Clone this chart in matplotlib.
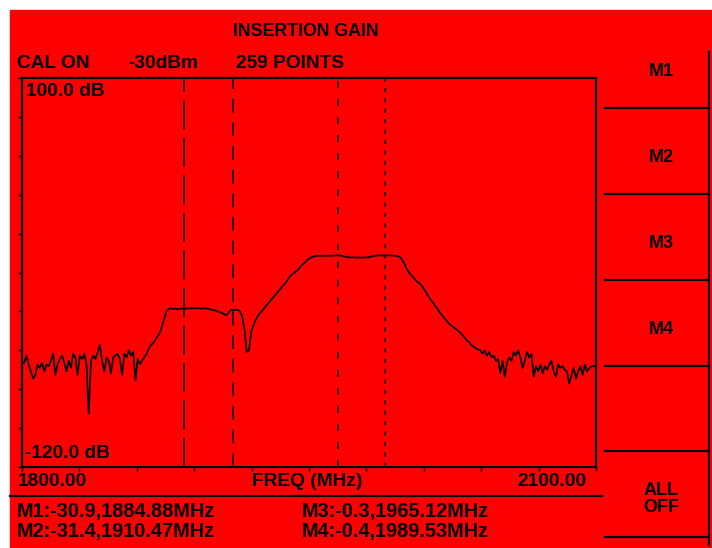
import numpy as np
import matplotlib.pyplot as plt
from matplotlib.patches import Rectangle

plt.rcParams['font.family'] = ['Liberation Sans', 'DejaVu Sans']
plt.rcParams['font.weight'] = 'bold'
plt.rcParams['lines.scale_dashes'] = False

# sweep setup shown on the screen
f_start, f_stop, n_points = 1800.0, 2100.0, 259
db_bottom, db_top = -120.0, 100.0

# trace, one value per sweep point (dB)
gain_db = [
    -61, -61, -57, -62, -66, -70, -68, -62, -64, -61,
    -66, -62, -63, -60, -56, -68, -62, -59, -57, -61,
    -66, -60, -64, -56, -58, -68, -57, -59, -56, -62,
    -90, -60, -57, -59, -55, -51, -60, -66, -58, -60,
    -67, -58, -57, -56, -59, -68, -56, -58, -54, -57,
    -55, -71, -59, -62, -60, -58, -56, -53, -51, -50,
    -48, -46, -44, -40, -36, -32, -30.5, -30.3, -30.6, -30.4,
    -30.8, -30.5, -30.3, -30.9, -30.2, -30.4, -30.3, -30.1, -30.4, -30.2,
    -30.3, -30.5, -30.2, -30.4, -30.6, -31.0, -31.2, -31.5, -32.0, -32.5,
    -33.0, -33.8, -34.0, -32.5, -31.0, -31.4, -31.0, -31.2, -32.0, -35.0,
    -42, -55, -54, -44, -40, -37, -34.5, -33, -31.5, -30,
    -28.5, -27, -25.5, -24, -22.5, -21, -19.5, -18, -16.5, -15,
    -13, -11.5, -10.5, -9.5, -8.5, -7, -5.5, -4.5, -3.2, -2.2,
    -1.5, -1.0, -0.7, -0.6, -0.5, -0.6, -0.5, -0.6, -0.5, -0.6,
    -0.4, -0.3, -0.3, -0.4, -0.6, -1.0, -1.3, -1.4, -1.5, -1.4,
    -1.6, -1.5, -1.5, -1.6, -1.5, -1.4, -1.3, -1.0, -0.8, -0.5,
    -0.4, -0.3, -0.4, -0.4, -0.4, -0.3, -0.4, -0.5, -0.6, -0.8,
    -1.5, -3, -5.5, -8, -10, -11.5, -13, -14.5, -15.5, -16.5,
    -18, -20, -22, -24, -26, -27.5, -29.5, -31, -33, -34.5,
    -36, -37.5, -39, -40, -41, -42, -43, -44, -45.5, -47,
    -48.5, -49.5, -51, -52, -53, -53.5, -54, -56, -54, -57,
    -55, -58, -57, -60, -59, -67, -60, -69, -61, -58,
    -60, -55, -57, -54, -58, -64, -60, -55, -58, -56,
    -69, -63, -66, -62, -67, -63, -65, -62, -60, -66,
    -69, -62, -64, -63, -65, -66, -73, -68, -64, -70,
    -66, -63, -68, -62, -66, -64, -63, -63, -63,
]

marker_names = ['M1', 'M2', 'M3', 'M4']
marker_freq = [1884.88, 1910.47, 1965.12, 1989.53]
marker_gain = [-30.9, -31.4, -0.3, -0.4]
marker_dashes = [(21, 6), (10, 7), (5, 8), (3, 4.5)]
softkeys = ['M1', 'M2', 'M3', 'M4', 'ALL\nOFF']

freq = np.linspace(f_start, f_stop, n_points)

fig = plt.figure(figsize=(7.12, 5.48), dpi=100)

# whole-screen layer in pixel units
bg = fig.add_axes([0, 0, 1, 1])
bg.set_xlim(0, 712)
bg.set_ylim(548, 0)
bg.axis('off')
bg.add_patch(Rectangle((10, 10), 702, 538, color='#ff0000', zorder=0))

# trace area
ax = fig.add_axes([22 / 712, (548 - 467) / 548, 574 / 712, 389 / 548])
ax.set_facecolor('none')
ax.set_xlim(f_start, f_stop)
ax.set_ylim(db_bottom, db_top)
ax.set_xticks(np.linspace(f_start, f_stop, 11))
ax.set_yticks(np.linspace(db_bottom, db_top, 11))
ax.tick_params(direction='out', length=3, width=1, colors='black',
               labelbottom=False, labelleft=False)
for s in ax.spines.values():
    s.set_linewidth(1.6)
    s.set_color('black')

for f, d in zip(marker_freq, marker_dashes):
    ax.axvline(f, color='black', lw=1.1, dashes=d)
ax.plot(freq, gain_db, color='black', lw=1.2)

fs = 13.8
txt = dict(color='black', fontsize=fs, va='center')
bg.text(306, 32, 'INSERTION GAIN', ha='center', **dict(txt, fontsize=12.8))
bg.text(17, 64, 'CAL ON', ha='left', **txt)
bg.text(128, 64, '-30dBm', ha='left', **txt)
bg.text(236, 64, '259 POINTS', ha='left', **txt)
bg.text(26, 92, '%.1f dB' % db_top, ha='left', **txt)
bg.text(25, 453, '%.1f dB' % db_bottom, ha='left', **txt)
bg.text(18, 482, '%.2f' % f_start, ha='left', **txt)
bg.text(307, 482, 'FREQ (MHz)', ha='center', **txt)
bg.text(587, 482, '%.2f' % f_stop, ha='right', **txt)
bg.plot([10, 602], [496, 496], color='black', lw=1.6)

readout_pos = [(17, 511), (17, 531), (302, 511), (302, 531)]
for name, f, g, (x, y) in zip(marker_names, marker_freq, marker_gain, readout_pos):
    bg.text(x, y, '%s:%.1f,%.2fMHz' % (name, g, f), ha='left',
            **dict(txt, fontsize=14.3))

# softkey column
bg.plot([709, 709], [52, 545], color='black', lw=1.6)
for y in [108, 194, 280, 366, 451, 537]:
    bg.plot([605, 709], [y, y], color='black', lw=1.6)
key_y = [72, 158, 243, 329, 499]
for label, y in zip(softkeys, key_y):
    bg.text(661, y, label, ha='center', color='black', fontsize=13,
            va='center', linespacing=1.05)

fig.savefig('out.png', dpi=100)
